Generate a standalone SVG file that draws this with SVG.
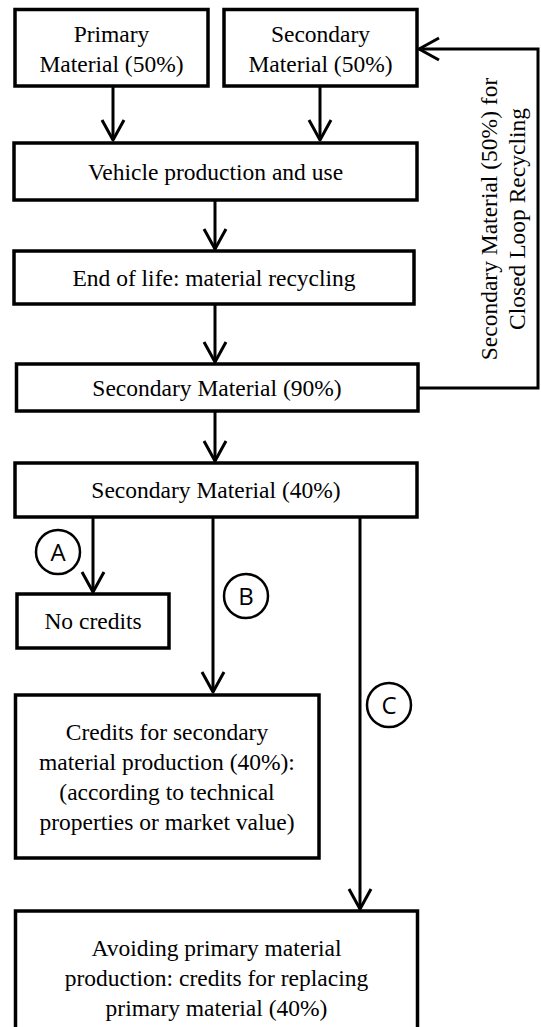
<svg xmlns="http://www.w3.org/2000/svg" width="541" height="1027" viewBox="0 0 541 1027">
<style>
.box{fill:#fff;stroke:#000;stroke-width:3.5}
.t{font-family:"Liberation Serif","Times New Roman",serif;font-size:23.5px;fill:#000;text-anchor:middle}
.c{fill:none;stroke:#000;stroke-width:3}
.circ{fill:#fff;stroke:#000;stroke-width:2.5}
.ct{font-family:"Open Sans","Liberation Sans",sans-serif;font-size:24px;fill:#000;text-anchor:middle}
</style>
<defs>
<marker id="arr" markerUnits="userSpaceOnUse" viewBox="-24 -14 28 28" markerWidth="28" markerHeight="28" refX="0" refY="0" orient="auto">
<path d="M-20,-11 L0,0 L-20,11" fill="none" stroke="#000" stroke-width="3" stroke-linejoin="round"/>
</marker>
</defs>
<rect width="541" height="1027" fill="#fff"/>
<g id="connectors">
<line class="c" x1="113" y1="86" x2="113" y2="140" marker-end="url(#arr)"/>
<line class="c" x1="320" y1="86" x2="320" y2="140" marker-end="url(#arr)"/>
<line class="c" x1="215" y1="200" x2="215" y2="249" marker-end="url(#arr)"/>
<line class="c" x1="215" y1="304" x2="215" y2="362" marker-end="url(#arr)"/>
<polyline class="c" points="418,388 538,388 538,49 419,49" marker-end="url(#arr)"/>
<line class="c" x1="215" y1="411" x2="215" y2="461" marker-end="url(#arr)"/>
<line class="c" x1="93" y1="517" x2="93" y2="592" marker-end="url(#arr)"/>
<line class="c" x1="213" y1="517" x2="213" y2="692" marker-end="url(#arr)"/>
<line class="c" x1="360" y1="517" x2="360" y2="909" marker-end="url(#arr)"/>
</g>
<g id="primary">
<rect class="box" x="15" y="9.5" width="193" height="76.5"/>
<text class="t" x="111.5" y="42">Primary</text>
<text class="t" x="111.5" y="72">Material (50%)</text>
</g>
<g id="secondary">
<rect class="box" x="224" y="9.5" width="193" height="76.5"/>
<text class="t" x="320.5" y="42">Secondary</text>
<text class="t" x="320.5" y="72">Material (50%)</text>
</g>
<g id="vehicle">
<rect class="box" x="14" y="143" width="403" height="57"/>
<text class="t" x="215.5" y="180">Vehicle production and use</text>
</g>
<g id="eol">
<rect class="box" x="14" y="251" width="400" height="53"/>
<text class="t" x="214" y="285.5">End of life: material recycling</text>
</g>
<g id="sec90">
<rect class="box" x="16.5" y="364" width="401.5" height="47"/>
<text class="t" x="217" y="395.5">Secondary Material (90%)</text>
</g>
<g id="loop-label">
<text class="t" transform="translate(497,219) rotate(-90)"><tspan x="0" y="0">Secondary Material (50%) for</tspan><tspan x="0" y="28">Closed Loop Recycling</tspan></text>
</g>
<g id="sec40">
<rect class="box" x="15" y="463" width="402" height="54"/>
<text class="t" x="216" y="498">Secondary Material (40%)</text>
</g>
<g id="labelA">
<circle class="circ" cx="58" cy="552" r="22"/>
<text class="ct" x="58" y="560.5">A</text>
</g>
<g id="nocredits">
<rect class="box" x="17" y="594" width="152" height="54"/>
<text class="t" x="93" y="629">No credits</text>
</g>
<g id="labelB">
<circle class="circ" cx="246" cy="596" r="22"/>
<text class="ct" x="246" y="604.5">B</text>
</g>
<g id="credits">
<rect class="box" x="15.5" y="695" width="303.5" height="163"/>
<text class="t" x="167" y="740">Credits for secondary</text>
<text class="t" x="167" y="770">material production (40%):</text>
<text class="t" x="167" y="800">(according to technical</text>
<text class="t" x="167" y="830">properties or market value)</text>
</g>
<g id="labelC">
<circle class="circ" cx="389" cy="705" r="22"/>
<text class="ct" x="389" y="713.5">C</text>
</g>
<g id="avoiding">
<rect class="box" x="15.5" y="911" width="402" height="140"/>
<text class="t" x="216.5" y="956">Avoiding primary material</text>
<text class="t" x="216.5" y="986">production: credits for replacing</text>
<text class="t" x="216.5" y="1016">primary material (40%)</text>
</g>
</svg>
